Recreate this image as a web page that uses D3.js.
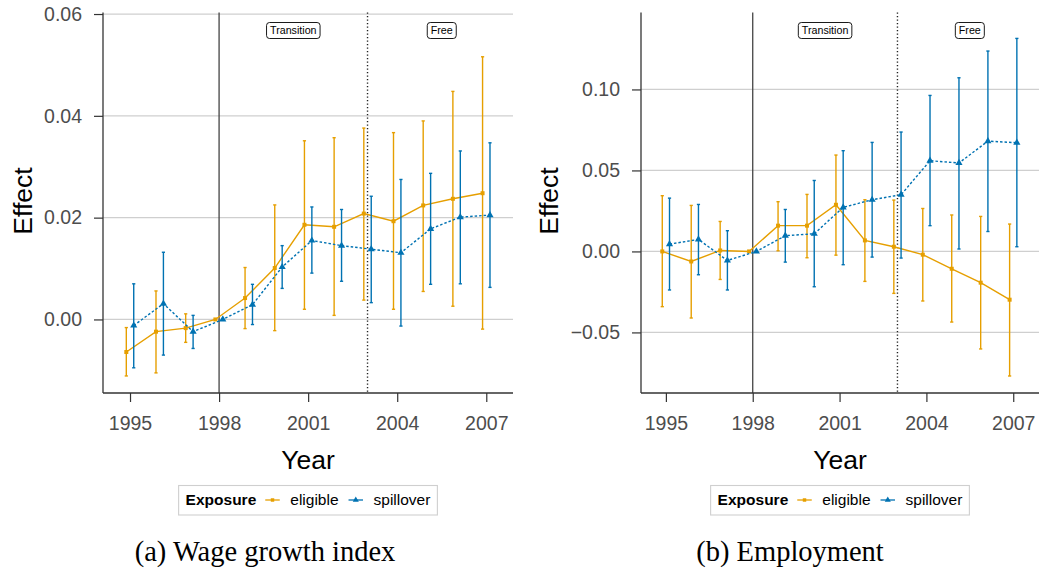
<!DOCTYPE html>
<html>
<head>
<meta charset="utf-8">
<script src="https://cdn.jsdelivr.net/npm/d3@7"></script>
<style>
body { margin: 0; background: #fff; }
svg { display: block; font-family: "Liberation Sans", Arial, sans-serif; }
</style>
</head>
<body>
<svg id="chart" width="1040" height="573"></svg>
<script>
// event-study estimates (1998 = reference year)
const years = [1995, 1996, 1997, 1998, 1999, 2000, 2001, 2002, 2003, 2004, 2005, 2006, 2007]
const yearTicks = [1995, 1998, 2001, 2004, 2007]
const exposures = ["eligible", "spillover"]
const colors = ["#E69F00", "#0072B2"]
const phaseLabels = ["Transition", "Free"]
const phaseYears = [2000.5, 2005.5]

// (a) wage growth index
const wageElig   = [-0.0064, -0.0024, -0.0017, 0, 0.0042, 0.0101, 0.0186, 0.0182, 0.0208, 0.0193, 0.0224, 0.0237, 0.0248]
const wageEligLo = [-0.0111, -0.0105, -0.0045, null, -0.0018, -0.0022, 0.0020, 0.0008, 0.0038, 0.0020, 0.0055, 0.0026, -0.0019]
const wageEligHi = [-0.0016, 0.0056, 0.0011, null, 0.0102, 0.0225, 0.0351, 0.0357, 0.0376, 0.0367, 0.0390, 0.0448, 0.0516]
const wageSpill   = [-0.0012, 0.0031, -0.0024, 0, 0.0029, 0.0103, 0.0155, 0.0145, 0.0138, 0.0131, 0.0178, 0.0201, 0.0205]
const wageSpillLo = [-0.0095, -0.0070, -0.0057, null, -0.0010, 0.0061, 0.0091, 0.0075, 0.0033, -0.0013, 0.0069, 0.0070, 0.0063]
const wageSpillHi = [0.0070, 0.0132, 0.0008, null, 0.0069, 0.0145, 0.0221, 0.0216, 0.0242, 0.0275, 0.0287, 0.0331, 0.0347]
const wageTicks = [0, 0.02, 0.04, 0.06]

// (b) employment
const empElig   = [0.0000, -0.0062, 0.0006, 0, 0.0159, 0.0159, 0.0288, 0.0068, 0.0029, -0.0020, -0.0107, -0.0193, -0.0298]
const empEligLo = [-0.0341, -0.0411, -0.0173, null, 0.0004, -0.0039, -0.0023, -0.0185, -0.0259, -0.0306, -0.0436, -0.0602, -0.0769]
const empEligHi = [0.0344, 0.0284, 0.0185, null, 0.0307, 0.0352, 0.0595, 0.0319, 0.0317, 0.0265, 0.0225, 0.0216, 0.0169]
const empSpill   = [0.0045, 0.0074, -0.0056, 0, 0.0097, 0.0109, 0.0272, 0.0319, 0.0350, 0.0560, 0.0546, 0.0681, 0.0671]
const empSpillLo = [-0.0238, -0.0144, -0.0238, null, -0.0066, -0.0218, -0.0082, -0.0035, -0.0041, 0.0159, 0.0015, 0.0123, 0.0029]
const empSpillHi = [0.0329, 0.0290, 0.0128, null, 0.0259, 0.0438, 0.0622, 0.0673, 0.0737, 0.0963, 0.1072, 0.1237, 0.1315]
const empTicks = [-0.05, 0, 0.05, 0.10]

const svg = d3.select("#chart")

function rows(est, lo, hi) {
    return years.map((yr, i) => ({ year: yr, est: est[i], lo: lo[i], hi: hi[i] }))
}

function drawPanel(p) {
    const x = d3.scaleLinear().domain(p.xDomain).range([p.left, p.right])
    const y = d3.scaleLinear().domain(p.yDomain).range([p.bottom, p.top])
    const g = svg.append("g")
    const dodge = [-0.125, 0.125]

    // horizontal grid
    g.append("g")
     .selectAll("line")
     .data(p.yTicks)
     .join("line")
     .attr("x1", p.left).attr("x2", p.right)
     .attr("y1", d => y(d)).attr("y2", d => y(d))
     .attr("stroke", "#cfcfcf")
     .attr("stroke-width", 1.2)

    // reform start / full liberalisation
    g.append("line")
     .attr("x1", x(1998)).attr("x2", x(1998))
     .attr("y1", p.top).attr("y2", p.bottom)
     .attr("stroke", "#444").attr("stroke-width", 1.3)
    g.append("line")
     .attr("x1", x(2003)).attr("x2", x(2003))
     .attr("y1", p.top).attr("y2", p.bottom)
     .attr("stroke", "#222").attr("stroke-width", 1.4)
     .attr("stroke-dasharray", "1.2,2.3")

    // axes
    const yAxis = d3.axisLeft(y).tickValues(p.yTicks).tickFormat(d3.format(".2f")).tickSize(9).tickPadding(12)
    const xAxis = d3.axisBottom(x).tickValues(yearTicks).tickFormat(d3.format("d")).tickSize(9).tickPadding(14)

    const ya = g.append("g").attr("transform", `translate(${p.left},0)`).call(yAxis)
    const xa = g.append("g").attr("transform", `translate(0,${p.bottom})`).call(xAxis)
    for (const a of [ya, xa]) {
        a.select(".domain").remove()
        a.selectAll(".tick line").attr("stroke", "#333").attr("stroke-width", 1.2)
        a.selectAll(".tick text")
         .attr("fill", "#4d4d4d")
         .style("font-size", "19.5px")
         .style("font-family", "Liberation Sans, Arial, sans-serif")
    }
    g.append("line")
     .attr("x1", p.left).attr("x2", p.left).attr("y1", p.top).attr("y2", p.bottom)
     .attr("stroke", "#333").attr("stroke-width", 1.3)
    g.append("line")
     .attr("x1", p.left).attr("x2", p.right).attr("y1", p.bottom).attr("y2", p.bottom)
     .attr("stroke", "#333").attr("stroke-width", 1.3)

    // phase labels
    phaseLabels.forEach((lab, i) => {
        const lg = g.append("g").attr("transform", `translate(${x(phaseYears[i])},${p.top + 18})`)
        const t = lg.append("text")
                    .attr("text-anchor", "middle")
                    .attr("dy", "0.36em")
                    .style("font-size", "10.7px")
                    .attr("fill", "#000")
                    .text(lab)
        const w = t.node().getComputedTextLength() + 7
        lg.insert("rect", "text")
          .attr("x", -w / 2).attr("y", -8)
          .attr("width", w).attr("height", 16)
          .attr("rx", 3)
          .attr("fill", "#fff").attr("stroke", "#000").attr("stroke-width", 0.9)
    })

    // series: error bars, line, points
    p.series.forEach((data, k) => {
        const col = colors[k]
        const xp = d => x(d.year + dodge[k])
        const bars = data.filter(d => d.lo != null)
        const eb = g.append("g").attr("stroke", col).attr("stroke-width", 1.4)
        eb.selectAll(".v").data(bars).join("line")
          .attr("x1", xp).attr("x2", xp)
          .attr("y1", d => y(d.lo)).attr("y2", d => y(d.hi))
        eb.selectAll(".capT").data(bars).join("line")
          .attr("x1", d => xp(d) - 1.6).attr("x2", d => xp(d) + 1.6)
          .attr("y1", d => y(d.hi)).attr("y2", d => y(d.hi))
        eb.selectAll(".capB").data(bars).join("line")
          .attr("x1", d => xp(d) - 1.6).attr("x2", d => xp(d) + 1.6)
          .attr("y1", d => y(d.lo)).attr("y2", d => y(d.lo))

        const line = d3.line().x(xp).y(d => y(d.est))
        g.append("path")
         .datum(data)
         .attr("d", line)
         .attr("fill", "none")
         .attr("stroke", col)
         .attr("stroke-width", 1.4)
         .attr("stroke-dasharray", k === 1 ? "2.5,2" : null)

        const sym = d3.symbol().type(k === 0 ? d3.symbolSquare : d3.symbolTriangle).size(k === 0 ? 16 : 22)
        g.append("g").selectAll("path").data(data).join("path")
         .attr("transform", d => `translate(${xp(d)},${y(d.est)})`)
         .attr("d", sym)
         .attr("fill", col)
    })

    // axis titles
    const cx = (p.left + p.right) / 2
    g.append("text")
     .attr("x", cx).attr("y", 469)
     .attr("text-anchor", "middle")
     .style("font-size", "26.5px")
     .text("Year")
    g.append("text")
     .attr("transform", `translate(${p.yLabelX},201) rotate(-90)`)
     .attr("text-anchor", "middle")
     .attr("dy", "0.35em")
     .style("font-size", "26.5px")
     .text("Effect")

    // legend
    const leg = g.append("g")
    const title = leg.append("text").attr("y", 505).style("font-size", "15.5px").style("font-weight", "bold").text("Exposure")
    let cur = title.node().getComputedTextLength() + 9
    exposures.forEach((name, k) => {
        leg.append("line")
           .attr("x1", cur).attr("x2", cur + 14.5)
           .attr("y1", 500).attr("y2", 500)
           .attr("stroke", colors[k]).attr("stroke-width", 1.3)
        leg.append("path")
           .attr("transform", `translate(${cur + 7.25},500)`)
           .attr("d", d3.symbol().type(k === 0 ? d3.symbolSquare : d3.symbolTriangle).size(k === 0 ? 12 : 16))
           .attr("fill", colors[k])
        cur += 25
        const t = leg.append("text").attr("x", cur).attr("y", 505).style("font-size", "15.5px").text(name)
        cur += t.node().getComputedTextLength() + 10
    })
    const lw = cur - 10
    leg.insert("rect", "text")
       .attr("x", -7).attr("y", 485.5)
       .attr("width", lw + 14).attr("height", 29.5)
       .attr("fill", "#fff").attr("stroke", "#cfcfcf").attr("stroke-width", 1.1)
    leg.attr("transform", `translate(${cx - lw / 2},0)`)

    // caption
    svg.append("text")
       .attr("x", p.captionX).attr("y", 561)
       .attr("text-anchor", "middle")
       .style("font-family", "Liberation Serif, Times New Roman, serif")
       .style("font-size", "28.5px")
       .text(p.caption)
}

drawPanel({
    left: 103, right: 513, top: 12.5, bottom: 393,
    xDomain: [1994.09, 2007.9], yDomain: [-0.01445, 0.0603],
    yTicks: wageTicks, yLabelX: 22.5,
    series: [rows(wageElig, wageEligLo, wageEligHi), rows(wageSpill, wageSpillLo, wageSpillHi)],
    caption: "(a) Wage growth index", captionX: 265
})

drawPanel({
    left: 641, right: 1039, top: 12.5, bottom: 393,
    xDomain: [1994.14, 2007.89], yDomain: [-0.0874, 0.1475],
    yTicks: empTicks, yLabelX: 548.5,
    series: [rows(empElig, empEligLo, empEligHi), rows(empSpill, empSpillLo, empSpillHi)],
    caption: "(b) Employment", captionX: 790
})
</script>
</body>
</html>
